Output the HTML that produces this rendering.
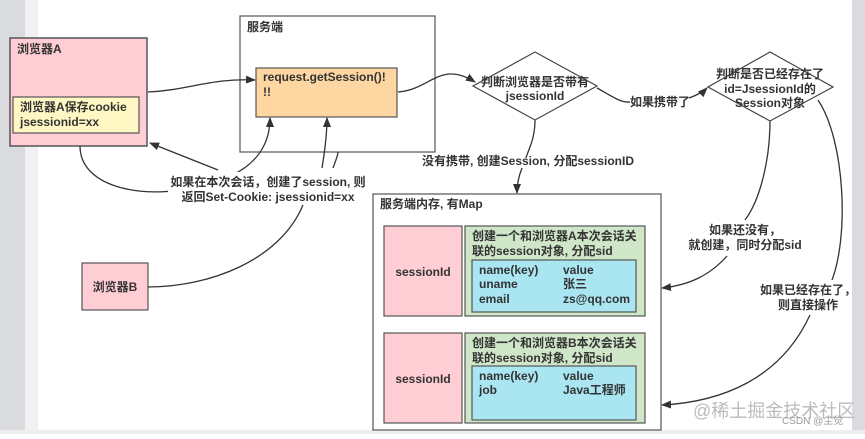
<!DOCTYPE html>
<html><head><meta charset="utf-8"><style>
body{margin:0;width:865px;height:434px;overflow:hidden;background:#fff;font-family:"Liberation Sans","Noto Sans CJK SC",sans-serif;}
svg text{font-family:"Liberation Sans","Noto Sans CJK SC",sans-serif;font-weight:bold;fill:#333;}
</style></head><body>
<svg width="865" height="434" xmlns="http://www.w3.org/2000/svg">
<defs><marker id="a" markerWidth="10" markerHeight="8" refX="9" refY="4" orient="auto" markerUnits="userSpaceOnUse"><path d="M0,0 L10,4 L0,8 z" fill="#333"/></marker></defs>
<rect x="0" y="0" width="25" height="434" fill="#d9dbde"/>
<rect x="25" y="0" width="13" height="434" fill="#f1f1f2"/>
<rect x="852" y="0" width="13" height="434" fill="#d9dbde"/>
<rect x="0" y="430" width="865" height="4" fill="#eee"/>
<!-- browser A -->
<rect x="10" y="38" width="137" height="108" fill="#ffcdd4" stroke="#555" stroke-width="1.5"/>
<text x="17" y="53" font-size="12">浏览器A</text>
<rect x="13" y="97" width="126" height="36" fill="#fff8c4" stroke="#555" stroke-width="1.2"/>
<text x="20" y="111" font-size="12">浏览器A保存cookie</text>
<text x="20" y="126" font-size="12">jsessionid=xx</text>
<!-- server -->
<rect x="240" y="16" width="195" height="136" fill="#fff" stroke="#555" stroke-width="1.2"/>
<text x="247" y="31" font-size="12">服务端</text>
<rect x="256" y="68" width="141" height="49" fill="#fdd6a2" stroke="#555" stroke-width="1.2"/>
<text x="263" y="81" font-size="12">request.getSession()!</text>
<text x="263" y="96" font-size="12">!!</text>
<!-- diamonds -->
<polygon points="535,52 597,86 535,120 473,86" fill="#fff" stroke="#444" stroke-width="1.2"/>
<text x="535" y="86" font-size="12" text-anchor="middle">判断浏览器是否带有</text>
<text x="535" y="100" font-size="12" text-anchor="middle">jsessionId</text>
<polygon points="770,52 833,87 770,121 708,87" fill="#fff" stroke="#444" stroke-width="1.2"/>
<text x="770" y="78" font-size="12" text-anchor="middle">判断是否已经存在了</text>
<text x="770" y="93" font-size="12" text-anchor="middle">id=JsessionId的</text>
<text x="770" y="107" font-size="12" text-anchor="middle">Session对象</text>
<!-- memory -->
<rect x="373" y="194" width="288" height="236" fill="#fff" stroke="#555" stroke-width="1.2"/>
<text x="380" y="208" font-size="12">服务端内存, 有Map</text>
<rect x="384" y="226" width="78" height="90" fill="#ffcdd4" stroke="#555" stroke-width="1.2"/>
<text x="423" y="276" font-size="12" text-anchor="middle">sessionId</text>
<rect x="465" y="226" width="180" height="90" fill="#cfe6c8" stroke="#555" stroke-width="1.2"/>
<text x="472" y="240" font-size="12">创建一个和浏览器A本次会话关</text>
<text x="472" y="255" font-size="12">联的session对象, 分配sid</text>
<rect x="472" y="260" width="164" height="52" fill="#a9e6f2" stroke="#555" stroke-width="1.2"/>
<text x="479" y="274" font-size="12">name(key)</text><text x="563" y="274" font-size="12">value</text>
<text x="479" y="288" font-size="12">uname</text><text x="563" y="288" font-size="12">张三</text>
<text x="479" y="303" font-size="12">email</text><text x="563" y="303" font-size="12">zs@qq.com</text>
<rect x="384" y="333" width="78" height="90" fill="#ffcdd4" stroke="#555" stroke-width="1.2"/>
<text x="423" y="383" font-size="12" text-anchor="middle">sessionId</text>
<rect x="465" y="333" width="180" height="90" fill="#cfe6c8" stroke="#555" stroke-width="1.2"/>
<text x="472" y="347" font-size="12">创建一个和浏览器B本次会话关</text>
<text x="472" y="362" font-size="12">联的session对象, 分配sid</text>
<rect x="472" y="366" width="164" height="54" fill="#a9e6f2" stroke="#555" stroke-width="1.2"/>
<text x="479" y="380" font-size="12">name(key)</text><text x="563" y="380" font-size="12">value</text>
<text x="479" y="394" font-size="12">job</text><text x="563" y="394" font-size="12">Java工程师</text>
<!-- browser B -->
<rect x="82" y="263" width="66" height="47" fill="#ffcdd4" stroke="#555" stroke-width="1.2"/>
<text x="115" y="291" font-size="12" text-anchor="middle">浏览器B</text>
<!-- connectors -->
<g fill="none" stroke="#333" stroke-width="1.3">
<path d="M148,92 C190,90 210,78 255,80" marker-end="url(#a)"/>
<path d="M398,92 C430,90 440,60 475,82" marker-end="url(#a)"/>
<path d="M597,88 C610,95 620,103 630,102"/>
<path d="M689,98 C700,94 705,90 707,88" marker-end="url(#a)"/>
<path d="M535,120 C535,140 528,150 526,158"/>
<path d="M522,168 C518,178 517,185 517,193" marker-end="url(#a)"/>
<path d="M770,121 C770,160 760,200 745,220"/>
<path d="M727,256 C710,275 690,285 662,288" marker-end="url(#a)"/>
<path d="M818,100 C845,140 850,240 830,285"/>
<path d="M810,315 C780,380 720,402 662,405" marker-end="url(#a)"/>
<path d="M80,146 C80,190 150,200 200,186 C250,175 270,150 270,118" marker-end="url(#a)"/>
<path d="M218,170 L150,143" marker-end="url(#a)"/>
<path d="M322,168 C325,150 327,135 327,118" marker-end="url(#a)"/>
<path d="M333,168 C336,160 338,155 338,152"/>
<path d="M148,287 C210,287 280,260 303,205"/>
</g>
<!-- labels -->
<rect x="168" y="172" width="200" height="30" fill="#fff"/>
<text x="268" y="186" font-size="12" text-anchor="middle">如果在本次会话，创建了session, 则</text>
<text x="268" y="201" font-size="12" text-anchor="middle">返回Set-Cookie: jsessionid=xx</text>
<text x="660" y="106" font-size="12" text-anchor="middle">如果携带了</text>
<text x="528" y="165" font-size="12" text-anchor="middle">没有携带, 创建Session, 分配sessionID</text>
<text x="745" y="234" font-size="12" text-anchor="middle">如果还没有，</text>
<text x="745" y="249" font-size="12" text-anchor="middle">就创建，同时分配sid</text>
<rect x="765" y="280" width="87" height="32" fill="#fff"/>
<text x="808" y="294" font-size="12" text-anchor="middle">如果已经存在了，</text>
<text x="808" y="309" font-size="12" text-anchor="middle">则直接操作</text>
<text x="693" y="417" font-size="18" style="font-weight:normal;fill:#bbb">@稀土掘金技术社区</text>
<text x="782" y="424" font-size="10" style="font-weight:normal;fill:#999">CSDN @尘觉</text>
</svg>
</body></html>
